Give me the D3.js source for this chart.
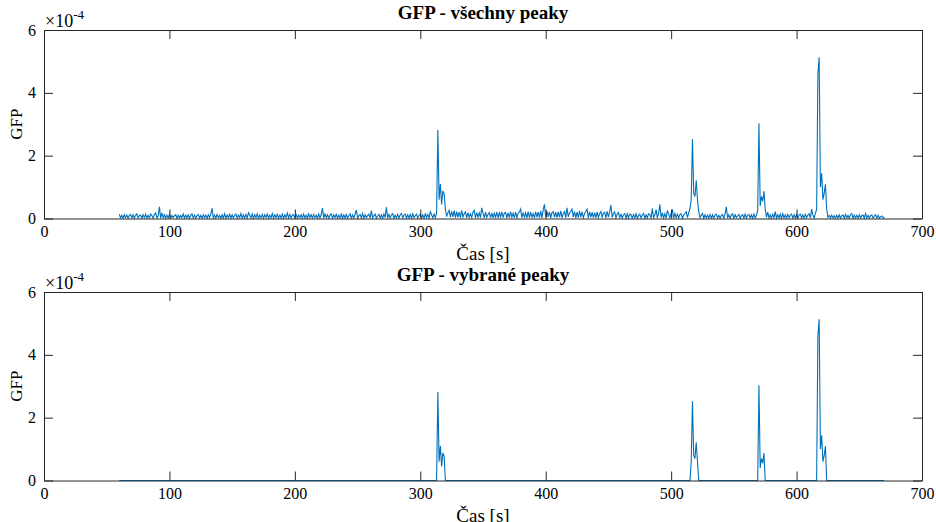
<!DOCTYPE html>
<html>
<head>
<meta charset="utf-8">
<script src="https://cdn.jsdelivr.net/npm/d3@7"></script>
<style>
  body { margin: 0; background: #fff; }
  svg text { font-family: "Liberation Serif", "Times New Roman", serif; fill: #000; }
</style>
</head>
<body>
<div id="chart"></div>
<script>
// GFP sampled once per second, starting at t = 60 s, values in units of 1e-6
const startTime = 60;
const gfpMicro = [
  14, 2, 10, 1, 12, 3, 11, 1, 9, 13,
  2, 12, 1, 10, 15, 2, 9, 11, 1, 12,
  3, 13, 1, 10, 2, 14, 9, 1, 12, 18,
  2, 8, 37, 1, 18, 3, 12, 1, 11, 2,
  13, 1, 10, 3, 9, 12, 1, 11, 2, 10,
  3, 14, 1, 11, 2, 12, 1, 10, 15, 2,
  11, 1, 9, 13, 2, 10, 1, 12, 3, 11,
  1, 12, 3, 14, 32, 2, 11, 1, 13, 3,
  10, 1, 12, 2, 15, 1, 11, 3, 13, 1,
  12, 2, 10, 14, 1, 11, 3, 16, 1, 12,
  2, 13, 1, 18, 11, 2, 14, 1, 12, 3,
  15, 1, 11, 2, 13, 1, 12, 3, 14, 1,
  11, 2, 16, 1, 12, 3, 13, 1, 11, 2,
  14, 1, 12, 3, 17, 2, 13, 1, 11, 12,
  2, 13, 1, 11, 3, 12, 1, 14, 2, 11,
  1, 15, 3, 12, 1, 13, 2, 11, 1, 14,
  2, 12, 33, 1, 14, 3, 12, 1, 11, 15,
  1, 12, 3, 13, 1, 11, 2, 14, 1, 12,
  2, 13, 1, 9, 15, 2, 12, 1, 14, 27,
  1, 9, 13, 2, 16, 1, 12, 3, 9, 14,
  1, 25, 2, 9, 14, 1, 8, 13, 2, 12,
  1, 14, 3, 36, 1, 13, 2, 12, 15, 1,
  11, 2, 13, 1, 12, 16, 2, 11, 14, 1,
  12, 2, 13, 1, 15, 3, 9, 14, 1, 10,
  13, 2, 12, 1, 15, 3, 13, 1, 22, 12,
  2, 14, 3, 18, 282, 60, 110, 45, 88, 78,
  30, 6, 18, 26, 4, 23, 5, 25, 3, 22,
  4, 20, 3, 26, 5, 15, 21, 2, 19, 4,
  15, 3, 20, 26, 2, 19, 4, 18, 3, 34,
  17, 2, 20, 4, 13, 19, 3, 18, 2, 17,
  4, 20, 2, 18, 5, 21, 3, 17, 19, 2,
  18, 3, 22, 4, 17, 2, 20, 3, 16, 21,
  30, 3, 19, 4, 18, 2, 22, 3, 20, 4,
  15, 2, 21, 4, 20, 3, 24, 2, 28, 45,
  3, 23, 5, 21, 2, 19, 22, 4, 20, 3,
  21, 4, 24, 2, 16, 22, 3, 34, 5, 17,
  23, 30, 4, 22, 2, 20, 3, 24, 4, 21,
  3, 16, 22, 30, 2, 21, 4, 20, 3, 19,
  2, 21, 4, 15, 22, 3, 17, 20, 2, 23,
  4, 22, 43, 3, 16, 21, 2, 14, 19, 3,
  13, 2, 12, 16, 1, 15, 2, 14, 12, 1,
  13, 2, 15, 1, 9, 14, 2, 10, 16, 1,
  12, 2, 15, 13, 1, 32, 3, 11, 28, 2,
  16, 45, 3, 18, 2, 15, 1, 26, 14, 2,
  17, 29, 1, 16, 3, 14, 2, 13, 15, 1,
  11, 16, 22, 3, 18, 31, 60, 252, 80, 70,
  122, 60, 22, 3, 10, 16, 1, 12, 2, 11,
  1, 13, 2, 12, 1, 11, 14, 2, 10, 1,
  9, 13, 1, 15, 37, 2, 12, 1, 11, 15,
  1, 12, 3, 8, 13, 1, 9, 12, 2, 14,
  1, 11, 13, 2, 12, 1, 14, 2, 11, 25,
  303, 40, 70, 55, 87, 30, 4, 20, 2, 12,
  1, 13, 3, 22, 1, 12, 2, 14, 1, 15,
  2, 12, 1, 13, 3, 11, 14, 1, 12, 2,
  13, 1, 11, 14, 2, 12, 1, 13, 3, 11,
  15, 2, 30, 12, 1, 16, 30, 460, 513, 100,
  144, 60, 80, 109, 30, 4, 10, 1, 11, 2,
  9, 1, 10, 2, 12, 1, 9, 11, 1, 13,
  2, 10, 1, 12, 16, 1, 11, 2, 10, 1,
  12, 2, 9, 11, 1, 16, 2, 10, 1, 9,
  11, 1, 8, 12, 2, 10, 1, 6, 8, 1,
  5
];

// time windows [s] of the selected peaks (bottom plot)
const peakWindows = [[314, 319], [516, 521], [570, 574], [617, 623]];

const xTicks = [0, 100, 200, 300, 400, 500, 600, 700];
const yTicks = [0, 2e-4, 4e-4, 6e-4];
const titles = ["GFP - všechny peaky", "GFP - vybrané peaky"];
const xLabel = "Čas [s]";
const yLabel = "GFP";

const W = 936, H = 522;
const left = 44, right = 922;
const panels = [{ top: 30, bottom: 218.5 }, { top: 292, bottom: 480.5 }];
const axisColor = "#262626";
const lineColor = "#0072BD";
const tickLen = 9;

const allData = gfpMicro.map((v, i) => ({ t: startTime + i, v: v * 1e-6 }));
const selData = allData.map(d => ({
    t: d.t,
    v: peakWindows.some(w => d.t >= w[0] && d.t <= w[1]) ? d.v : 0
}));

const svg = d3.select("#chart").append("svg")
    .attr("width", W)
    .attr("height", H);

function drawPanel(p, data, title, idx) {
    const w = right - left;
    const h = p.bottom - p.top;
    const g = svg.append("g").attr("transform", `translate(${left},${p.top})`);

    const x = d3.scaleLinear().domain([0, 700]).range([0, w]);
    const y = d3.scaleLinear().domain([0, 6e-4]).range([h, 0]);

    svg.append("clipPath").attr("id", "clip" + idx)
        .append("rect").attr("width", w).attr("height", h + 1);

    // data line
    g.append("path")
        .datum(data)
        .attr("clip-path", `url(#clip${idx})`)
        .attr("fill", "none")
        .attr("stroke", lineColor)
        .attr("stroke-width", 1.1)
        .attr("d", d3.line().x(d => x(d.t)).y(d => y(d.v)));

    // axes (ticks pointing inwards, box on)
    const xb = g.append("g").attr("transform", `translate(0,${h})`)
        .call(d3.axisBottom(x).tickValues(xTicks).tickSizeInner(-tickLen).tickSizeOuter(0)
            .tickPadding(7).tickFormat(d3.format("d")));
    const xt = g.append("g")
        .call(d3.axisTop(x).tickValues(xTicks).tickSizeInner(-tickLen).tickSizeOuter(0).tickFormat(""));
    const yl = g.append("g")
        .call(d3.axisLeft(y).tickValues(yTicks).tickSizeInner(-tickLen).tickSizeOuter(0)
            .tickPadding(8).tickFormat(d => d3.format("d")(d * 1e4)));
    const yr = g.append("g").attr("transform", `translate(${w},0)`)
        .call(d3.axisRight(y).tickValues(yTicks).tickSizeInner(-tickLen).tickSizeOuter(0).tickFormat(""));

    [xb, xt, yl, yr].forEach(a => {
        a.select(".domain").attr("stroke", axisColor);
        a.selectAll(".tick line").attr("stroke", axisColor);
        a.selectAll("text").attr("font-family", "Liberation Serif").attr("font-size", 16).attr("fill", "#000");
    });

    // exponent label
    const ex = g.append("text").attr("x", 1).attr("y", -3).attr("font-size", 18);
    ex.append("tspan").text("\u00d710");
    ex.append("tspan").attr("dy", -8).attr("font-size", 13).text("-4");

    // title
    g.append("text")
        .attr("x", w / 2).attr("y", -11)
        .attr("text-anchor", "middle")
        .attr("font-weight", "bold")
        .attr("font-size", 19)
        .text(title);

    // x label
    g.append("text")
        .attr("x", w / 2).attr("y", h + 41)
        .attr("text-anchor", "middle")
        .attr("font-size", 19)
        .text(xLabel);

    // y label
    g.append("text")
        .attr("transform", `translate(${-22},${h / 2}) rotate(-90)`)
        .attr("text-anchor", "middle")
        .attr("font-size", 17)
        .text(yLabel);
}

drawPanel(panels[0], allData, titles[0], 0);
drawPanel(panels[1], selData, titles[1], 1);
</script>
</body>
</html>
